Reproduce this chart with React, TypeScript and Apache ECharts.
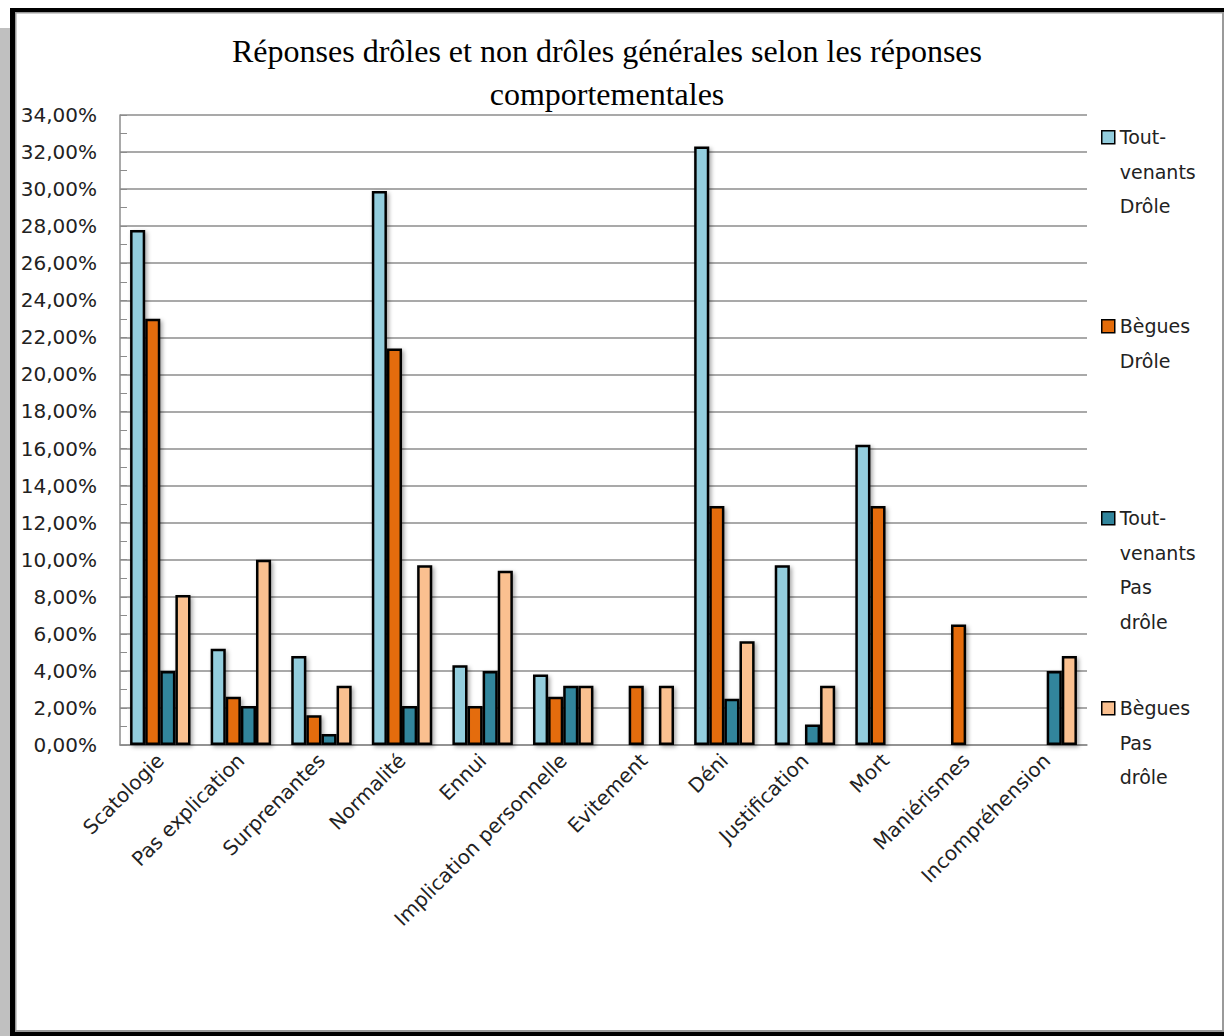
import React, { useEffect, useRef } from "react";
import * as echarts from "echarts";

const categories = [
  "Scatologie",
  "Pas explication",
  "Surprenantes",
  "Normalité",
  "Ennui",
  "Implication personnelle",
  "Evitement",
  "Déni",
  "Justification",
  "Mort",
  "Maniérismes",
  "Incompréhension",
];

const seriesNames = [
  "Tout-\nvenants\nDrôle",
  "Bègues\nDrôle",
  "Tout-\nvenants\nPas\ndrôle",
  "Bègues\nPas\ndrôle",
];

const toutVenantsDrole = [27.8, 5.2, 4.8, 29.9, 4.3, 3.8, null, 32.3, 9.7, 16.2, null, null];
const beguesDrole = [23.0, 2.6, 1.6, 21.4, 2.1, 2.6, 3.2, 12.9, null, 12.9, 6.5, null];
const toutVenantsPasDrole = [4.0, 2.1, 0.6, 2.1, 4.0, 3.2, null, 2.5, 1.1, null, null, 4.0];
const beguesPasDrole = [8.1, 10.0, 3.2, 9.7, 9.4, 3.2, 3.2, 5.6, 3.2, null, null, 4.8];

const colors = ["#93CDDD", "#E46C0A", "#31859C", "#FAC090"];
const legendTops = [122, 311, 503, 693];

const fmtPct = (v: number) => v.toFixed(2).replace(".", ",") + "%";

export default function App() {
  const ref = useRef<HTMLDivElement>(null);
  useEffect(() => {
    if (!ref.current) return;
    const chart = echarts.init(ref.current, null, { renderer: "svg" });
    const values = [toutVenantsDrole, beguesDrole, toutVenantsPasDrole, beguesPasDrole];
    const font = "DejaVu Sans";
    chart.setOption({
      animation: false,
      backgroundColor: "#ffffff",
      title: {
        text: "Réponses drôles et non drôles générales selon les réponses\ncomportementales",
        left: 602,
        textAlign: "center",
        top: 24,
        textStyle: {
          fontFamily: "Liberation Serif",
          fontSize: 32,
          fontWeight: "normal",
          color: "#000",
          lineHeight: 43,
        },
      },
      legend: seriesNames.map((name, i) => {
        const n = name.split("\n").length;
        return {
          data: [name],
          orient: "vertical",
          left: 1096,
          top: legendTops[i] - 7 - (n - 1) * 34.5,
          itemWidth: 13,
          itemHeight: 13,
          icon: "rect",
          selectedMode: false,
          formatter: (nm: string) => "\n".repeat(n - 1) + nm,
          itemStyle: { borderColor: "#000", borderWidth: 1.5 },
          textStyle: { fontFamily: font, fontSize: 19, color: "#222", lineHeight: 34.5 },
        };
      }),
      grid: { left: 120, right: 137, top: 115, bottom: 291 },
      xAxis: {
        type: "category",
        data: categories,
        axisLine: { lineStyle: { color: "#8c8c8c", width: 1.5 } },
        axisTick: { show: false },
        axisLabel: {
          rotate: 45,
          interval: 0,
          margin: 12,
          fontFamily: font,
          fontSize: 20,
          color: "#222",
        },
      },
      yAxis: {
        type: "value",
        min: 0,
        max: 34,
        interval: 2,
        axisLine: { show: true, lineStyle: { color: "#8c8c8c", width: 1.5 } },
        axisTick: { show: true, inside: true, length: 7, lineStyle: { color: "#8c8c8c" } },
        minorTick: { show: true, splitNumber: 2, length: 7, lineStyle: { color: "#8c8c8c" } },
        splitLine: { lineStyle: { color: "#8c8c8c", width: 1.5 } },
        axisLabel: {
          formatter: fmtPct,
          margin: 23,
          fontFamily: font,
          fontSize: 20,
          color: "#222",
        },
      },
      series: seriesNames.map((name, i) => ({
        name,
        type: "bar",
        data: values[i],
        barGap: "0%",
        barCategoryGap: "25%",
        itemStyle: {
          color: colors[i],
          borderColor: "#000",
          borderWidth: 2.5,
          shadowColor: "rgba(0,0,0,0.35)",
          shadowBlur: 4,
          shadowOffsetX: 2,
          shadowOffsetY: 2,
        },
      })),
      graphic: [
        { type: "rect", left: 0, top: 28, shape: { width: 10, height: 1008 }, style: { fill: "#c0c0c0" }, silent: true },
        { type: "rect", left: 10, top: 8, shape: { width: 1214, height: 4 }, style: { fill: "#000" }, silent: true },
        { type: "rect", left: 10, top: 8, shape: { width: 5, height: 1028 }, style: { fill: "#000" }, silent: true },
        { type: "rect", left: 10, top: 1032, shape: { width: 1214, height: 4 }, style: { fill: "#000" }, silent: true },
        { type: "rect", left: 15, top: 12, shape: { width: 1209, height: 1.5 }, style: { fill: "#9a9a9a" }, silent: true },
        { type: "rect", left: 15, top: 12, shape: { width: 1.5, height: 1020 }, style: { fill: "#9a9a9a" }, silent: true },
        { type: "rect", left: 1222, top: 12, shape: { width: 2, height: 1020 }, style: { fill: "#9a9a9a" }, silent: true },
        { type: "rect", left: 15, top: 1030, shape: { width: 1209, height: 2 }, style: { fill: "#9a9a9a" }, silent: true },
      ],
    });
    return () => chart.dispose();
  }, []);
  return (
    <div
      ref={ref}
      style={{ position: "fixed", left: 0, top: 0, width: 1224, height: 1036 }}
    />
  );
}
